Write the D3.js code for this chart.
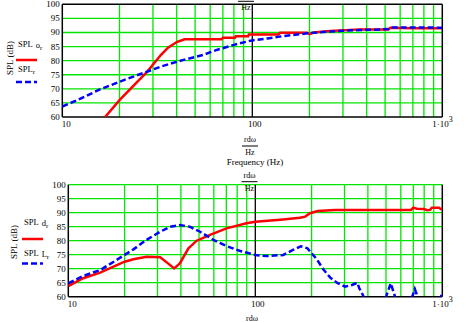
<!DOCTYPE html>
<html><head><meta charset="utf-8">
<script src="https://cdn.jsdelivr.net/npm/d3@7"></script>
<style>
html,body{margin:0;padding:0;background:#fff;}
svg{display:block;}
text{font-family:"Liberation Serif","Times New Roman",serif;fill:#000;}
</style></head>
<body>
<svg id="c" width="471" height="322"></svg>
<script>
// ---- data ----
const yTicks = [60, 65, 70, 75, 80, 85, 90, 95, 100];
const xGridMinor = [20, 30, 40, 50, 60, 70, 80, 90, 200, 300, 400, 500, 600, 700, 800, 900];
const xTickLabels = ["10", "100", "1·10"];

// top chart: SPL o_r (red), SPL_r (blue)
const topRedFreq = [16.8, 20, 28, 33, 36, 40, 44, 69, 70, 81, 82, 95, 96, 137, 140, 194, 200, 210, 257, 370, 520, 533, 700, 1000];
const topRedVal  = [60, 66, 76.1, 82, 84.6, 86.6, 87.6, 87.6, 88.1, 88.1, 88.7, 88.7, 89.3, 89.3, 89.9, 89.9, 89.4, 90.0, 90.5, 91.1, 91.1, 91.7, 91.5, 91.5];
const topBlueFreq = [10, 12, 15.8, 20, 24, 28, 33, 43, 55, 65, 80, 98, 120, 145, 195, 250, 300, 370, 450, 520, 540, 700, 1000];
const topBlueVal  = [63.7, 66, 69.8, 72.5, 74.5, 76.1, 77.9, 80.2, 82, 83.8, 85.6, 87.1, 87.9, 88.7, 89.7, 90.3, 90.6, 90.9, 91.0, 91.2, 91.8, 91.8, 91.7];

// bottom chart: SPL d_r (red), SPL L_r (blue)
const botRedFreq = [10, 12, 14.8, 20, 22.3, 26.2, 31, 34, 36.8, 39.5, 43.9, 48.6, 57.3, 70.1, 89.8, 100, 141, 173, 185, 196, 216, 267, 680, 700, 730, 800, 830, 860, 880, 960, 980, 1000];
const botRedVal  = [63.8, 66.6, 68.6, 72.5, 73.4, 74.3, 74.1, 72, 70.1, 71.9, 77.3, 80, 82.1, 84.4, 86.2, 86.8, 87.6, 88.2, 88.6, 89.8, 90.6, 91.0, 91.0, 91.8, 91.4, 91.3, 90.9, 91.0, 91.8, 91.8, 91.3, 91.3];
const botBlueFreq = [10, 12, 14.8, 18.1, 22.3, 26.2, 31, 35, 39.5, 44.6, 50.7, 59.7, 70.1, 82.3, 100, 115, 141, 159, 175, 190, 200, 213, 231, 251, 273, 302, 329, 351, 360, 376, 400, 450, 490, 505, 530, 559, 600, 650, 695, 713, 737, 800, 900, 970, 1000];
const botBlueVal  = [64.8, 67.4, 69.5, 73.1, 76.9, 80.3, 83.2, 85, 85.6, 85, 83.2, 80.3, 78.1, 76.4, 74.9, 74.5, 74.9, 76.7, 78, 77.3, 75.5, 73.4, 69.8, 66.9, 65, 63.6, 64.2, 65, 63, 60.6, 56, 54, 57, 60.8, 64.8, 60, 55, 56, 60.5, 62.7, 60, 55, 55, 59, 61.4];

// ---- drawing ----
const svg = d3.select("#c");
const GREEN = "#00e600";

function chart(cfg) {
  const x = d3.scaleLog().domain([10, 1000]).range([cfg.left, cfg.right]);
  const y = d3.scaleLinear().domain([60, 100]).range([cfg.bottom, cfg.top]);
  const g = svg.append("g");
  const id = "clip" + cfg.name;
  svg.append("defs").append("clipPath").attr("id", id)
    .append("rect").attr("x", cfg.left).attr("y", cfg.top)
    .attr("width", cfg.right - cfg.left).attr("height", cfg.bottom - cfg.top);

  // grid
  g.selectAll(".hg").data(yTicks.filter(v => v > 60 && (v < 100 || !cfg.topBlack))).enter().append("line")
    .attr("x1", cfg.left).attr("x2", cfg.right)
    .attr("y1", d => y(d)).attr("y2", d => y(d))
    .attr("stroke", GREEN).attr("stroke-width", 1.3);
  g.selectAll(".vg").data(xGridMinor).enter().append("line")
    .attr("x1", d => x(d)).attr("x2", d => x(d))
    .attr("y1", cfg.top).attr("y2", cfg.bottom)
    .attr("stroke", GREEN).attr("stroke-width", 1.3);
  // black line at 100 Hz
  g.append("line").attr("x1", x(100)).attr("x2", x(100)).attr("y1", cfg.top).attr("y2", cfg.bottom)
    .attr("stroke", "#000").attr("stroke-width", 1.3);
  // borders
  const bl = [[cfg.left, cfg.top, cfg.left, cfg.bottom], [cfg.right, cfg.top, cfg.right, cfg.bottom], [cfg.left, cfg.bottom, cfg.right, cfg.bottom]];
  if (cfg.topBlack) bl.push([cfg.left, cfg.top, cfg.right, cfg.top]);
  g.selectAll(".bd").data(bl).enter().append("line")
    .attr("x1", d => d[0]).attr("y1", d => d[1]).attr("x2", d => d[2]).attr("y2", d => d[3])
    .attr("stroke", "#000").attr("stroke-width", 1.5);

  // y tick labels
  g.selectAll(".yl").data(yTicks).enter().append("text")
    .attr("x", cfg.left - 2.5).attr("y", d => y(d) + 3)
    .attr("text-anchor", "end").attr("font-size", 9).text(d => d);
  // x tick labels
  const xl = g.append("g").attr("font-size", 9);
  xl.append("text").attr("x", x(10) - 0.5).attr("y", cfg.bottom + 10).text(xTickLabels[0]);
  xl.append("text").attr("x", x(100) + 2.5).attr("y", cfg.bottom + 10).attr("text-anchor", "middle").text(xTickLabels[1]);
  const t3 = xl.append("text").attr("x", x(1000) - 10).attr("y", cfg.bottom + 10).attr("text-anchor", "start");
  t3.append("tspan").text(xTickLabels[2]);
  t3.append("tspan").attr("dy", -5).attr("font-size", 8).text("3");

  // curves
  const line = d3.line().x(d => x(d[0])).y(d => y(d[1]));
  const cg = g.append("g").attr("clip-path", `url(#${id})`);
  cg.append("path").datum(d3.zip(cfg.redF, cfg.redV)).attr("d", line)
    .attr("fill", "none").attr("stroke", "#ff0000").attr("stroke-width", 2.5);
  cg.append("path").datum(d3.zip(cfg.blueF, cfg.blueV)).attr("d", line)
    .attr("fill", "none").attr("stroke", "#0000ff").attr("stroke-width", 2.5)
    .attr("stroke-dasharray", "6,3");

  // y axis title
  g.append("text").attr("transform", `translate(${cfg.ytX},${cfg.ytY}) rotate(-90)`)
    .attr("text-anchor", "middle").attr("font-size", 9).text("SPL (dB)");

  // legend
  const L = cfg.leg;
  const t1 = g.append("text").attr("x", L.x).attr("y", L.y1).attr("font-size", 8.5);
  t1.append("tspan").text("SPL");
  t1.append("tspan").attr("dx", 3).attr("dy", 1).text(L.s1);
  t1.append("tspan").attr("dy", 2).attr("font-size", 7).text("r");
  g.append("line").attr("x1", L.x - 2).attr("x2", L.x + 19).attr("y1", L.r).attr("y2", L.r)
    .attr("stroke", "#ff0000").attr("stroke-width", 2.5);
  const t2 = g.append("text").attr("x", L.x).attr("y", L.y2).attr("font-size", 8.5);
  t2.append("tspan").text("SPL");
  if (L.s2) {
    t2.append("tspan").attr("dx", 3).attr("dy", 1).text(L.s2);
    t2.append("tspan").attr("dy", 2).attr("font-size", 7).text("r");
  } else {
    t2.append("tspan").attr("dy", 2).attr("font-size", 7).text("r");
  }
  g.append("line").attr("x1", L.x - 2).attr("x2", L.x + 19).attr("y1", L.b).attr("y2", L.b)
    .attr("stroke", "#0000ff").attr("stroke-width", 2.5).attr("stroke-dasharray", "6,3");
  return {x, y};
}

const top1 = chart({name: "a", left: 62.3, right: 442.3, top: 4.3, bottom: 117, topBlack: true,
  redF: topRedFreq, redV: topRedVal, blueF: topBlueFreq, blueV: topBlueVal,
  ytX: 13, ytY: 58, leg: {x: 18, y1: 46.5, r: 60, y2: 71.5, b: 82, s1: "o", s2: null}});
const bot1 = chart({name: "b", left: 68.3, right: 442.3, top: 184.7, bottom: 296.7, topBlack: false,
  redF: botRedFreq, redV: botRedVal, blueF: botBlueFreq, blueV: botBlueVal,
  ytX: 17, ytY: 242, leg: {x: 24, y1: 225, r: 239, y2: 255.5, b: 263.5, s1: "d", s2: "L"}});

// unit fractions
function frac(cx, yTop, withTop, barY, hzY) {
  if (withTop) svg.append("text").attr("x", cx).attr("y", yTop).attr("text-anchor", "middle").attr("font-size", 8).text("rdω");
  svg.append("line").attr("x1", cx - 8).attr("x2", cx + 8).attr("y1", barY).attr("y2", barY).attr("stroke", "#000").attr("stroke-width", 1);
  svg.append("text").attr("x", cx).attr("y", hzY).attr("text-anchor", "middle").attr("font-size", 8).text("Hz");
}
frac(246, 0, false, 1.3, 9.5);
frac(250, 142, true, 146, 154.5);
svg.append("text").attr("x", 255).attr("y", 164.5).attr("text-anchor", "middle").attr("font-size", 9).text("Frequency (Hz)");
frac(249.5, 178, true, 181.7, 191);
svg.append("text").attr("x", 252).attr("y", 320.5).attr("text-anchor", "middle").attr("font-size", 8).text("rdω");
</script>
</body></html>
